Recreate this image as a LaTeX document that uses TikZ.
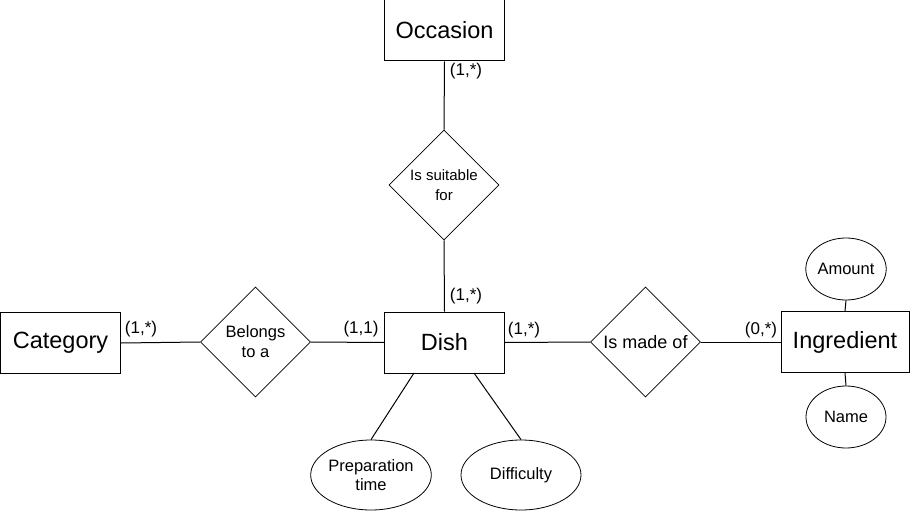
\documentclass[tikz,border=0pt]{standalone}
\usepackage{fontspec}
\setmainfont{Liberation Sans}
\usetikzlibrary{shapes.geometric}
\begin{document}
\begin{tikzpicture}[x=1pt,y=-1pt,
  entity/.style={draw,line width=1pt,minimum width=120pt,minimum height=61pt,inner sep=0pt,font=\fontsize{23.5}{26}\selectfont},
  rel/.style={draw,diamond,line width=0.8pt,minimum width=110pt,minimum height=110pt,inner sep=0pt,align=center},
  attr/.style={draw,ellipse,line width=0.8pt,inner sep=0pt,align=center,font=\fontsize{16.5}{19.5}\selectfont},
  card/.style={inner sep=0pt,font=\fontsize{17}{19}\selectfont},
  conn/.style={line width=1pt}]
\useasboundingbox (0,0) rectangle (911,511);
\node[entity] (occ) at (444.5,30.5) {Occasion};
\node[entity] (dish) at (444.5,342.5) {Dish};
\node[entity] (cat) at (60.5,343) {Category};
\node[entity,minimum width=128pt] (ing) at (845,342) {Ingredient};
\node[rel,font=\fontsize{15}{19.5}\selectfont] (suit) at (444,185) {Is suitable\\for};
\node[rel,font=\fontsize{16.5}{20}\selectfont] (bel) at (255.5,342) {Belongs\\to a};
\node[rel,font=\fontsize{18}{20}\selectfont] (made) at (645.5,342) {Is made of};
\node[attr,minimum width=80pt,minimum height=62pt] (amt) at (846,269) {Amount};
\node[attr,minimum width=80pt,minimum height=62pt] (nam) at (846,417) {Name};
\node[attr,minimum width=120pt,minimum height=70pt] (prep) at (371,475) {Preparation\\time};
\node[attr,minimum width=120pt,minimum height=70pt] (diff) at (521,475) {Difficulty};
\coordinate (d1) at (414,373);
\coordinate (d2) at (474,373);
\draw[conn] (occ.south) -- (suit.north);
\draw[conn] (suit.south) -- (dish.north);
\draw[conn] (cat.east) -- (bel.west);
\draw[conn] (bel.east) -- (dish.west);
\draw[conn] (dish.east) -- (made.west);
\draw[conn] (made.east) -- (ing.west);
\draw[conn] (ing.north) -- (amt.south);
\draw[conn] (ing.south) -- (nam.north);
\draw[conn] (d1) -- (prep.north);
\draw[conn] (d2) -- (diff.north);
\node[card] (c1) at (466,71) {(1,*)};
\node[card] (c2) at (466,296) {(1,*)};
\node[card] (c3) at (141,329) {(1,*)};
\node[card] (c4) at (361,329) {(1,1)};
\node[card] (c5) at (524,330) {(1,*)};
\node[card] (c6) at (761,330) {(0,*)};
\end{tikzpicture}
\end{document}
